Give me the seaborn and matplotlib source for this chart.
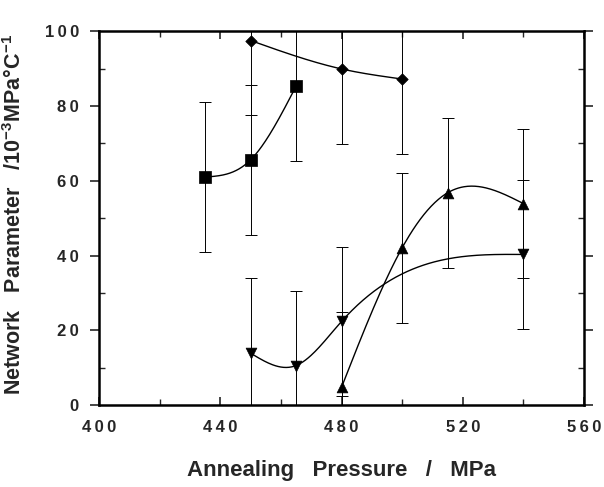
import numpy as np
import pandas as pd
import matplotlib
matplotlib.use("Agg")
import matplotlib.pyplot as plt
import seaborn as sns
from matplotlib.ticker import MultipleLocator, FuncFormatter

# values (annealing pressure in MPa, parameter in 1e-3 MPa/C)
square_p = [435, 450, 465]
square_v = [61.0, 65.6, 85.3]
diamond_p = [450, 480, 500]
diamond_v = [97.5, 89.9, 87.2]
up_p = [480, 500, 515, 540]
up_v = [4.8, 42.1, 56.8, 53.9]
down_p = [450, 465, 480, 540]
down_v = [13.9, 10.6, 22.4, 40.3]
err = 20.0

x_ticks = [400, 440, 480, 520, 560]
y_ticks = [0, 20, 40, 60, 80, 100]


def natural_spline(x, y, n=200):
    # natural cubic spline used only to draw the smooth guide line
    x = np.asarray(x, float)
    y = np.asarray(y, float)
    k = len(x)
    h = np.diff(x)
    A = np.zeros((k, k))
    b = np.zeros(k)
    A[0, 0] = A[-1, -1] = 1
    for i in range(1, k - 1):
        A[i, i - 1] = h[i - 1]
        A[i, i] = 2 * (h[i - 1] + h[i])
        A[i, i + 1] = h[i]
        b[i] = 6 * ((y[i + 1] - y[i]) / h[i] - (y[i] - y[i - 1]) / h[i - 1])
    M = np.linalg.solve(A, b)
    xs = np.linspace(x[0], x[-1], n)
    ys = np.empty_like(xs)
    for j, xv in enumerate(xs):
        i = min(np.searchsorted(x, xv, side="right") - 1, k - 2)
        t1 = x[i + 1] - xv
        t0 = xv - x[i]
        ys[j] = (M[i] * t1**3 + M[i + 1] * t0**3) / (6 * h[i]) \
            + (y[i] / h[i] - M[i] * h[i] / 6) * t1 \
            + (y[i + 1] / h[i] - M[i + 1] * h[i] / 6) * t0
    return xs, ys


def spaced(v, pos):
    # wide letter spacing like the scanned figure
    return "\u2009".join(f"{v:.0f}")


sns.set_theme(style="ticks")
plt.rcParams["font.family"] = ["Liberation Sans", "DejaVu Sans"]
plt.rcParams["font.weight"] = "bold"
plt.rcParams["mathtext.fontset"] = "custom"
plt.rcParams["mathtext.rm"] = "Liberation Sans:bold"
plt.rcParams["mathtext.it"] = "Liberation Sans:bold"
plt.rcParams["mathtext.bf"] = "Liberation Sans:bold"

fig = plt.figure(figsize=(6.04, 4.87), dpi=100)
ax = fig.add_axes([0.164, 0.168, 0.803, 0.768])

series = [
    (square_p, square_v, "s", 65),
    (diamond_p, diamond_v, "D", 34),
    (up_p, up_v, "^", 60),
    (down_p, down_v, "v", 60),
]

for p, v, mk, sz in series:
    ax.errorbar(p, v, yerr=err, fmt="none", ecolor="black", elinewidth=0.7,
                capsize=4, capthick=0.7, zorder=2)
    xs, ys = natural_spline(p, v)
    sns.lineplot(x=xs, y=ys, ax=ax, color="black", lw=1.0, sort=False, zorder=3)
    df = pd.DataFrame({"p": p, "v": v})
    sns.scatterplot(data=df, x="p", y="v", ax=ax, marker=mk, s=sz, color="black",
                    edgecolor="black", linewidth=0.5, zorder=4)

ax.set_xlim(400, 560)
ax.set_ylim(0, 100)
ax.set_xticks(x_ticks)
ax.set_yticks(y_ticks)
ax.xaxis.set_minor_locator(MultipleLocator(20))
ax.yaxis.set_minor_locator(MultipleLocator(10))
ax.xaxis.set_major_formatter(FuncFormatter(spaced))
ax.yaxis.set_major_formatter(FuncFormatter(spaced))

for s in ax.spines.values():
    s.set_linewidth(1.8)
    s.set_color("black")

ax.tick_params(axis="x", which="major", direction="in", length=6, width=1.2,
               top=True, labelsize=12, pad=11)
ax.tick_params(axis="x", which="minor", direction="in", length=4, width=1.0, top=True)
ax.tick_params(axis="y", which="major", direction="out", length=6.5, width=1.2,
               labelsize=12, pad=8)
ax.tick_params(axis="y", which="minor", direction="in", length=4, width=1.0)
ax.tick_params(axis="y", which="both", right=True)
for t in ax.get_xticklabels() + ax.get_yticklabels():
    t.set_fontweight("bold")

ax.set_xlabel("Annealing   Pressure   /   MPa", fontsize=16, fontweight="bold",
              labelpad=18)
ax.set_ylabel(r"Network   Parameter   /10$^{-3}$MPa°C$^{-1}$", fontsize=15.5,
              fontweight="bold")
ax.yaxis.set_label_coords(-0.15, 0.51)

fig.savefig("out.png", dpi=100)
